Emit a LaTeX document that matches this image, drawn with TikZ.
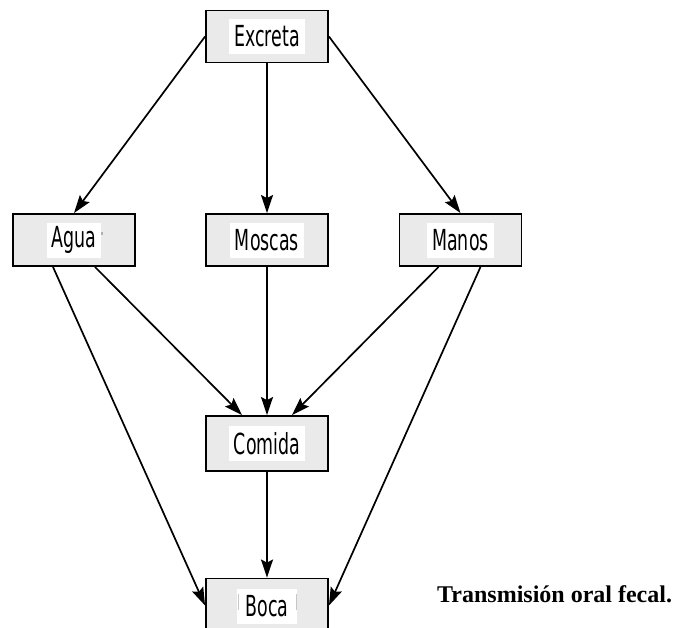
\documentclass[tikz,border=0pt]{standalone}
\usepackage{fontspec}
\setmainfont{Liberation Serif}
\newfontfamily\boxfont[FakeStretch=0.6]{DejaVu Sans}
\usetikzlibrary{arrows.meta}
\definecolor{boxgray}{RGB}{234,234,234}
\tikzset{
  box/.style={draw=black, line width=1.9pt, fill=boxgray, minimum width=122pt, minimum height=52pt, inner sep=0pt},
  lbl/.style={fill=white, inner xsep=5pt, inner ysep=0pt, minimum height=35pt, font=\boxfont\fontsize{29}{32}\selectfont},
  conn/.style={line width=1.7pt, -{Stealth[length=18pt,width=12pt,inset=3pt]}},
  artifact/.style={draw=gray!45, line width=1pt}
}
\begin{document}
\begin{tikzpicture}[x=1pt,y=-1pt]
\useasboundingbox (0,0) rectangle (674,627);
\clip (0,0) rectangle (674,627);
\fill[white] (0,0) rectangle (674,627);
% boxes
\node[box] (excreta) at (267,36.5) {};
\node[box] (agua) at (74,240) {};
\node[box] (moscas) at (267,240) {};
\node[box] (manos) at (460.5,240) {};
\node[box, minimum height=55pt] (comida) at (267,443.5) {};
\node[box] (boca) at (267,604.5) {};
% labels
\node[lbl] (excreta-t) at (excreta) {Excreta};
\node[lbl] (agua-t) at (agua) {Agua};
\node[lbl] (moscas-t) at (moscas) {Moscas};
\node[lbl] (manos-t) at (manos) {Manos};
\node[lbl] (comida-t) at (comida) {Comida};
\node[lbl, inner xsep=9pt] (boca-t) at ([yshift=-2pt]boca) {Boca};
% stray marks printed in the picture
\fill[gray!60] (101,232) rectangle (103,235);
\draw[artifact] (238.5,594) -- (238.5,610);
\draw[artifact] (296.5,594) -- (296.5,610);
% connectors
\draw[conn] (excreta.west) -- (agua.north);
\draw[conn] (excreta.south) -- (moscas.north);
\draw[conn] (excreta.east) -- (manos.north);
\draw[conn] ([xshift=21pt]agua.south) -- ([xshift=-25pt]comida.north);
\draw[conn] ([xshift=-21pt]agua.south) -- ([yshift=-1pt]boca.west);
\draw[conn] (moscas.south) -- (comida.north);
\draw[conn] ([xshift=-22pt]manos.south) -- ([xshift=25pt]comida.north);
\draw[conn] ([xshift=20pt]manos.south) -- ([yshift=-1pt]boca.east);
\draw[conn] (comida.south) -- (boca.north);
% caption
\node[anchor=base west, inner sep=0pt, font=\bfseries\fontsize{24}{26}\selectfont] (caption) at (437,602) {Transmisión oral fecal.};
\end{tikzpicture}
\end{document}
